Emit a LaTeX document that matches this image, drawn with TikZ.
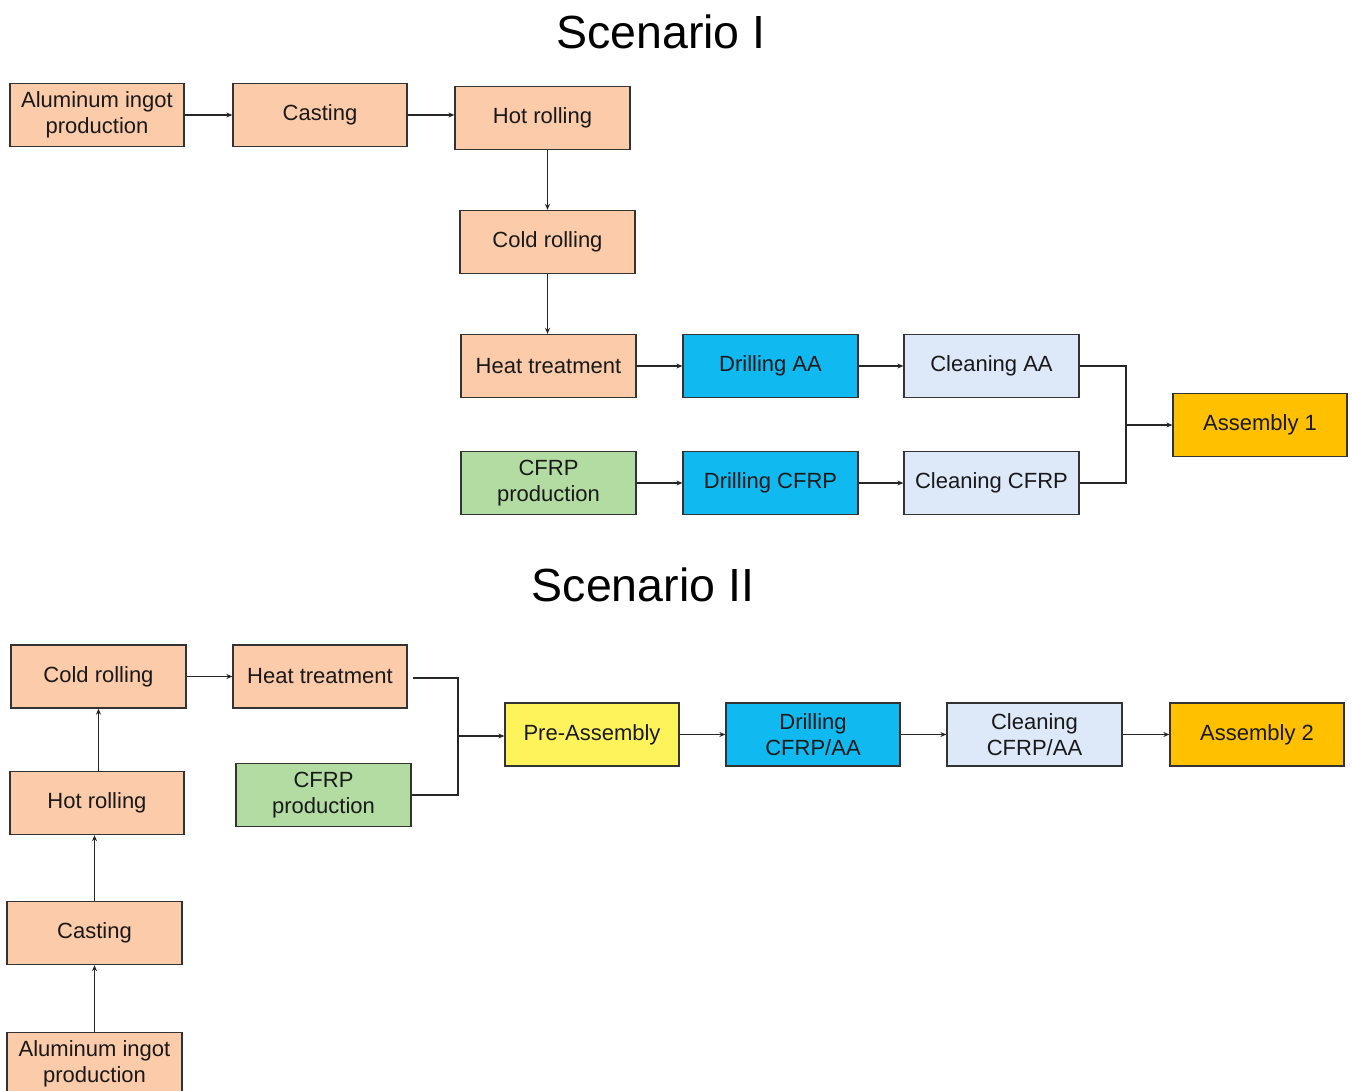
\documentclass[tikz,border=0pt]{standalone}
\usepackage{fontspec}
\setmainfont{Liberation Sans}
\usetikzlibrary{arrows.meta,calc}
\definecolor{peach}{HTML}{FCCBAA}
\definecolor{drill}{HTML}{10BAF0}
\definecolor{clean}{HTML}{DDE8F8}
\definecolor{greenbox}{HTML}{B2DCA2}
\definecolor{gold}{HTML}{FFC000}
\definecolor{yel}{HTML}{FFF35C}
\definecolor{edge}{HTML}{333333}
\tikzset{
  box/.style={draw=edge, line width=1.3pt, minimum width=174pt, minimum height=63pt,
    inner sep=0pt, align=center, font=\fontsize{22}{26}\selectfont, text=black!90},
  pbox/.style={box, fill=peach},
  dbox/.style={box, fill=drill},
  cbox/.style={box, fill=clean},
  gbox/.style={box, fill=greenbox},
  abox/.style={box, fill=gold},
  ybox/.style={box, fill=yel},
  conn/.style={draw=black!85, line width=1.1pt, -{Stealth[length=6pt,width=5pt]}},
  plain/.style={draw=black!85, line width=1.1pt},
  title/.style={font=\fontsize{46.5}{50}\selectfont, inner sep=0pt}
}
\begin{document}
\begin{tikzpicture}[x=1pt,y=-1pt]
\useasboundingbox (0,0) rectangle (1352,1091);
\clip (0,0) rectangle (1352,1091);
% Scenario I
\node[title] (t1) at (661,32) {Scenario I};
\node[pbox] (a1) at (97,115) {Aluminum ingot\\production};
\node[pbox] (c1) at (320,115) {Casting};
\node[pbox, minimum width=175pt] (h1) at (542.5,118) {Hot rolling};
\node[pbox, minimum width=175pt] (cr1) at (547.5,242) {Cold rolling};
\node[pbox, minimum width=175pt] (ht1) at (548.5,366) {Heat treatment};
\node[dbox, minimum width=175pt] (d1) at (770.5,366) {Drilling AA};
\node[cbox, minimum width=175pt] (cl1) at (991.5,366) {Cleaning AA};
\node[gbox, minimum width=175pt] (g1) at (548.5,483) {CFRP\\production};
\node[dbox, minimum width=175pt] (d2) at (770.5,483) {Drilling CFRP};
\node[cbox, minimum width=175pt] (cl2) at (991.5,483) {Cleaning CFRP};
\node[abox] (as1) at (1260,425) {Assembly 1};
\coordinate (j1) at (1126,425);
\draw[conn] (a1.east) -- (c1.west);
\draw[conn] (c1.east) -- (c1.east -| h1.west);
\draw[conn] (h1.south -| cr1.north) -- (cr1.north);
\draw[conn] (cr1.south) -- (cr1.south |- ht1.north);
\draw[conn] (ht1.east) -- (d1.west);
\draw[conn] (d1.east) -- (cl1.west);
\draw[conn] (g1.east) -- (d2.west);
\draw[conn] (d2.east) -- (cl2.west);
\draw[plain] (cl1.east) -| (j1);
\draw[plain] (cl2.east) -| (j1);
\draw[conn] (j1) -- (as1.west);
% Scenario II
\node[title] (t2) at (643,585) {Scenario II};
\node[pbox, minimum width=175pt] (cr2) at (98.5,676.5) {Cold rolling};
\node[pbox] (ht2) at (320,676.5) {Heat treatment};
\node[gbox, minimum width=175pt] (g2) at (323.5,795) {CFRP\\production};
\node[pbox] (h2) at (97,803) {Hot rolling};
\node[pbox, minimum width=175pt] (c2) at (94.5,933) {Casting};
\node[pbox, minimum width=175pt] (a2) at (94.5,1064) {Aluminum ingot\\production};
\node[ybox] (pa) at (592,734.5) {Pre-Assembly};
\node[dbox] (d3) at (813,734.5) {Drilling\\CFRP/AA};
\node[cbox, minimum width=175pt] (cl3) at (1034.5,734.5) {Cleaning\\CFRP/AA};
\node[abox] (as2) at (1257,734.5) {Assembly 2};
\coordinate (j2) at (458,736);
\coordinate (hs) at (413,678);
\draw[conn] (cr2.east) -- (ht2.west);
\draw[plain] (hs) -| (j2);
\draw[plain] (g2.east) -| (j2);
\draw[conn] (j2) -- (j2 -| pa.west);
\draw[conn] (pa.east) -- (d3.west);
\draw[conn] (d3.east) -- (cl3.west);
\draw[conn] (cl3.east) -- (as2.west);
\draw[conn] (h2.north -| cr2.south) -- (cr2.south);
\draw[conn] (c2.north) -- (c2.north |- h2.south);
\draw[conn] (a2.north) -- (c2.south);
\end{tikzpicture}
\end{document}
